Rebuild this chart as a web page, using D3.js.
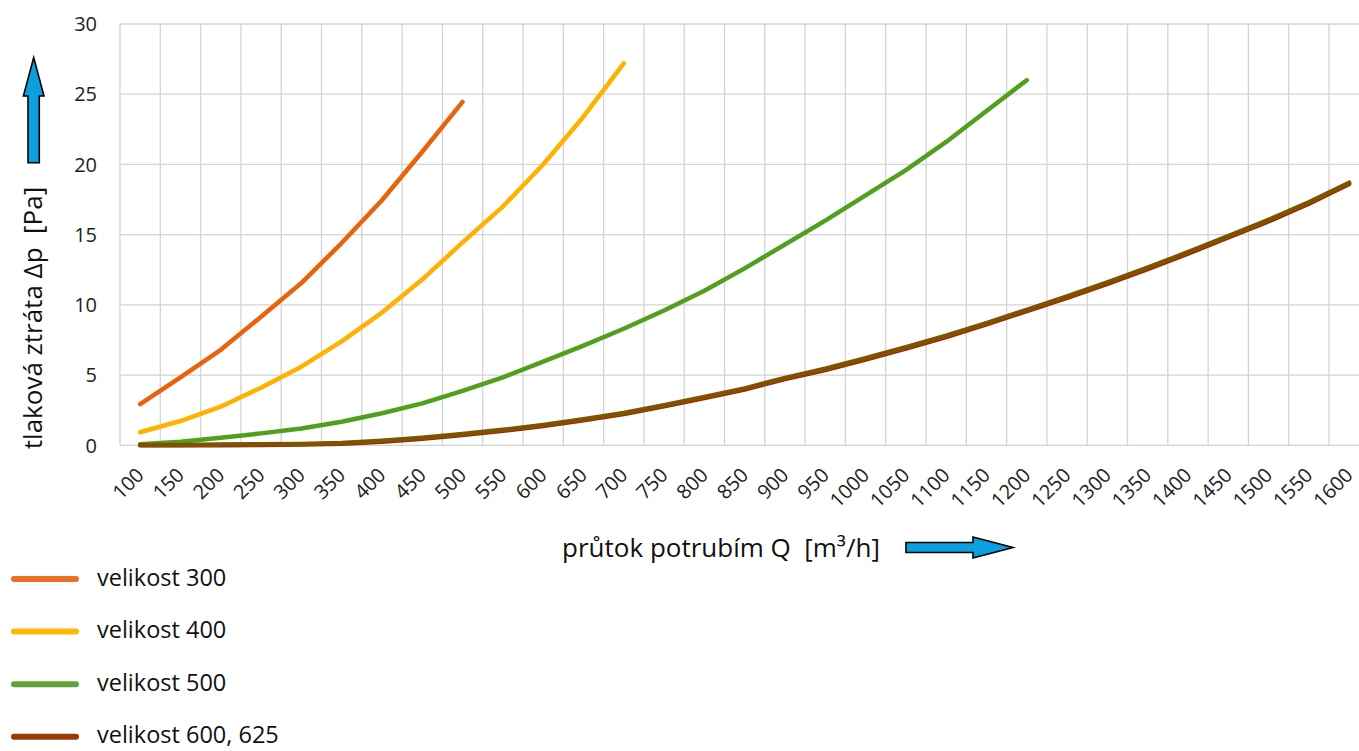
<!DOCTYPE html>
<html>
<head>
<meta charset="utf-8">
<script src="https://cdn.jsdelivr.net/npm/d3@7"></script>
<style>
  html, body { margin: 0; padding: 0; background: #fff; }
  svg { display: block; font-family: "Open Sans", "Noto Sans", sans-serif; }
  svg text { white-space: pre; }
</style>
</head>
<body>
<svg id="chart" width="1359" height="751"></svg>
<script>
// ---- data ----
const categories = [100,150,200,250,300,350,400,450,500,550,600,650,700,750,800,850,900,950,1000,1050,1100,1150,1200,1250,1300,1350,1400,1450,1500,1550,1600];
const yTicks = [0,5,10,15,20,25,30];
const size300 = [2.94,4.84,6.8,9.15,11.55,14.4,17.45,20.9,24.45];
const size400 = [0.93,1.73,2.75,4.1,5.6,7.4,9.45,11.8,14.45,17.0,20.0,23.4,27.2];
const size500 = [0.07,0.26,0.54,0.85,1.2,1.68,2.28,2.99,3.88,4.84,5.96,7.1,8.3,9.6,11.0,12.6,14.3,16.0,17.8,19.6,21.6,23.8,26.0];
const size600 = [0,0,0.01,0.02,0.05,0.11,0.25,0.46,0.73,1.03,1.38,1.78,2.22,2.77,3.37,3.97,4.72,5.36,6.11,6.89,7.71,8.61,9.56,10.5,11.5,12.55,13.65,14.8,15.95,17.2,18.6];
const size625 = [0.02,0.03,0.05,0.07,0.1,0.17,0.32,0.53,0.8,1.1,1.45,1.85,2.3,2.85,3.45,4.05,4.8,5.45,6.2,6.98,7.8,8.7,9.65,10.6,11.6,12.65,13.75,14.9,16.05,17.3,18.7];
const seriesNames = ["velikost 300","velikost 400","velikost 500","velikost 600, 625"];
const xTitle = "průtok potrubím Q  [m³/h]";
const yTitle = "tlaková ztráta Δp  [Pa]";

// ---- layout ----
const svg = d3.select("#chart");
const plotLeft = 120, plotTop = 24, plotBottom = 445.3;
const band = 40.3;
const plotRight = plotLeft + band * categories.length;
const x = d3.scaleBand().domain(categories).range([plotLeft, plotRight]).padding(0);
const y = d3.scaleLinear().domain([0, 30]).range([plotBottom, plotTop]);
const cx = c => x(c) + x.bandwidth() / 2;

const grid = svg.append("g");
grid.selectAll("line.h").data(yTicks).join("line")
  .attr("x1", plotLeft).attr("x2", plotRight)
  .attr("y1", d => y(d)).attr("y2", d => y(d))
  .attr("stroke", "#d3d3d3").attr("stroke-width", 1.3);
grid.selectAll("line.v").data(categories.concat(["end"])).join("line")
  .attr("x1", (d, i) => plotLeft + i * x.bandwidth()).attr("x2", (d, i) => plotLeft + i * x.bandwidth())
  .attr("y1", y(30)).attr("y2", y(0))
  .attr("stroke", "#d3d3d3").attr("stroke-width", 1.3);

// y tick labels
svg.append("g").selectAll("text").data(yTicks).join("text")
  .attr("x", 97).attr("y", d => y(d)).attr("dy", "0.36em")
  .attr("text-anchor", "end").attr("font-size", 20).attr("fill", "#222")
  .text(d => d);

// x tick labels
svg.append("g").selectAll("text").data(categories).join("text")
  .attr("transform", d => `translate(${cx(d) + 5},${plotBottom + 31}) rotate(-45)`)
  .attr("text-anchor", "end").attr("font-size", 20).attr("fill", "#222")
  .text(d => d);

// lines
const line = d3.line().x(d => cx(d.c)).y(d => y(d.v));
const mk = arr => arr.map((v, i) => ({ c: categories[i], v }));
const drawn = [
  { data: size300, color: "#E8640C" },
  { data: size400, color: "#FFB000" },
  { data: size500, color: "#50A01E" },
  { data: size600, color: "#A02800" },
  { data: size625, color: "#7F5200" }
];
svg.append("g").selectAll("path").data(drawn).join("path")
  .attr("d", d => line(mk(d.data)))
  .attr("fill", "none").attr("stroke", d => d.color)
  .attr("stroke-width", 4.5).attr("stroke-linecap", "round").attr("stroke-linejoin", "round");

// y title + arrow
svg.append("text")
  .attr("transform", "translate(42,318) rotate(-90)")
  .attr("text-anchor", "middle").attr("font-size", 26).attr("fill", "#111")
  .text(yTitle);
svg.append("path")
  .attr("d", "M28,162.7 L39.3,162.7 L39.3,96 L44,96 L33.7,57.5 L23.4,96 L28,96 Z")
  .attr("fill", "#0C9FDF").attr("stroke", "#000").attr("stroke-width", 1.6);

// x title + arrow
svg.append("text")
  .attr("x", 721).attr("y", 557)
  .attr("text-anchor", "middle").attr("font-size", 26).attr("fill", "#111")
  .text(xTitle);
svg.append("path")
  .attr("d", "M906,542.5 L973,542.5 L973,537 L1013,547.5 L973,558 L973,552.5 L906,552.5 Z")
  .attr("fill", "#0C9FDF").attr("stroke", "#000").attr("stroke-width", 1.6);

// legend
const legendColors = ["#E97126", "#FFB80A", "#5FA33A", "#963A06"];
const lg = svg.append("g").selectAll("g").data(seriesNames).join("g")
  .attr("transform", (d, i) => `translate(0,${579 + i * 52.6})`);
lg.append("line").attr("x1", 14).attr("x2", 76).attr("y1", 0).attr("y2", 0)
  .attr("stroke", (d, i) => legendColors[i]).attr("stroke-width", 6).attr("stroke-linecap", "round");
lg.append("text").attr("x", 97).attr("y", 0).attr("dy", "0.28em")
  .attr("font-size", 23.5).attr("fill", "#111").text(d => d);
</script>
</body>
</html>
